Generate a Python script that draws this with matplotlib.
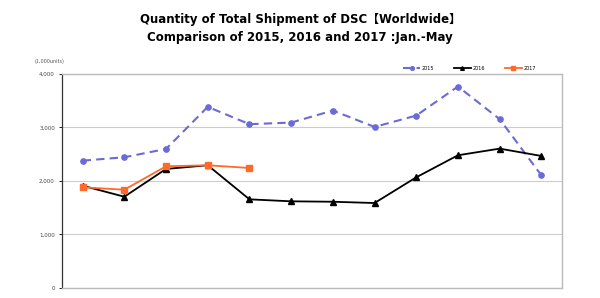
import numpy as np
import matplotlib.pyplot as plt

# monthly shipments, 1,000 units (Jan..Dec)
months = np.arange(12)
y2015 = [2378, 2442, 2597, 3384, 3060, 3090, 3315, 3009, 3221, 3764, 3154, 2105]
y2016 = [1910, 1704, 2223, 2292, 1655, 1618, 1610, 1586, 2067, 2479, 2603, 2466]
y2017 = [1880, 1835, 2273, 2292, 2241]
yticks = [0, 1000, 2000, 3000, 4000]

fig = plt.figure(figsize=(6, 2.98), dpi=100)
ax = fig.add_axes([0.103, 0.034, 0.834, 0.718])

ax.plot(months, y2015, color="#6b6bd6", ls=(0, (4, 2.5)), lw=1.5, marker="o", ms=3.8, label="2015")
ax.plot(months, y2016, color="black", lw=1.3, marker="^", ms=3.8, label="2016")
ax.plot(months[:len(y2017)], y2017, color="#ff6a2a", lw=1.3, marker="s", ms=4.3, label="2017")

ax.set_xlim(-0.5, 11.5)
ax.set_ylim(0, 4000)
ax.set_yticks(yticks)
ax.set_yticklabels(["{:,}".format(v) for v in yticks], fontsize=4, color="#444444")
ax.set_xticks([])
ax.tick_params(axis="y", length=2, width=0.6, pad=3)
ax.grid(axis="y", color="#cccccc", lw=0.8)
ax.set_axisbelow(True)
for s in ["top", "right", "bottom"]:
    ax.spines[s].set_color("#bbbbbb")
    ax.spines[s].set_linewidth(1)
ax.spines["left"].set_color("#333333")
ax.spines["left"].set_linewidth(0.9)

fig.text(0.058, 0.787, "(1,000units)", fontsize=3.5, color="#555555")

leg = ax.legend(loc="lower right", bbox_to_anchor=(0.955, 1.0), ncol=3, frameon=False,
                fontsize=3.5, handlelength=3.5, columnspacing=4, handletextpad=0.4,
                borderaxespad=0.3, markerscale=0.7)

fig.text(0.5, 0.903, "Quantity of Total Shipment of DSC\u3010Worldwide\u3011\nComparison of 2015, 2016 and 2017 :Jan.-May",
         ha="center", va="center", fontsize=8.5, fontweight="bold", linespacing=1.5,
         family=["DejaVu Sans", "Noto Sans CJK JP"])

fig.savefig("out.png", dpi=100)
